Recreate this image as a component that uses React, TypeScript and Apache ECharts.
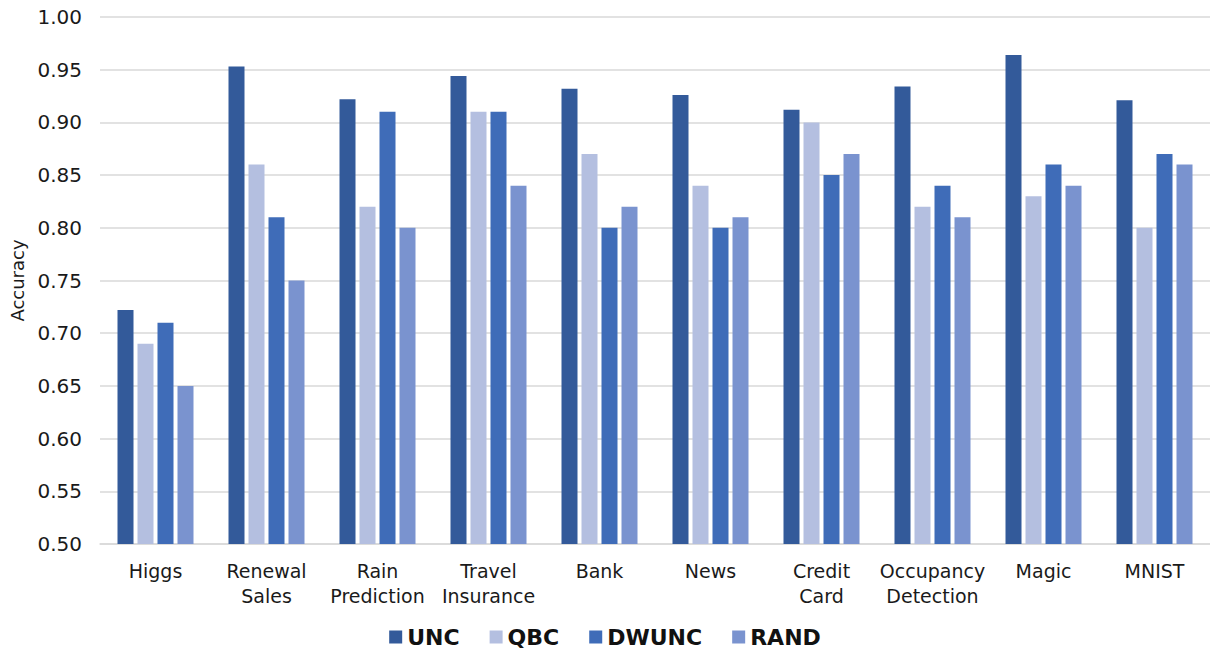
import React, { useEffect, useRef } from "react";
import * as echarts from "echarts";

const categories = [
  "Higgs",
  "Renewal\nSales",
  "Rain\nPrediction",
  "Travel\nInsurance",
  "Bank",
  "News",
  "Credit\nCard",
  "Occupancy\nDetection",
  "Magic",
  "MNIST",
];

const unc = [0.722, 0.953, 0.922, 0.944, 0.932, 0.926, 0.912, 0.934, 0.964, 0.921];
const qbc = [0.69, 0.86, 0.82, 0.91, 0.87, 0.84, 0.9, 0.82, 0.83, 0.8];
const dwunc = [0.71, 0.81, 0.91, 0.91, 0.8, 0.8, 0.85, 0.84, 0.86, 0.87];
const rand = [0.65, 0.75, 0.8, 0.84, 0.82, 0.81, 0.87, 0.81, 0.84, 0.86];

const seriesNames = ["UNC", "QBC", "DWUNC", "RAND"];
const seriesData = [unc, qbc, dwunc, rand];
const seriesColors = ["#335a9a", "#b4bfe0", "#3f6cb8", "#7a93cf"];

const FONT = "Verdana, 'DejaVu Sans', sans-serif";

export default function App() {
  const ref = useRef<HTMLDivElement>(null);

  useEffect(() => {
    if (!ref.current) return;
    const chart = echarts.init(ref.current, null, { renderer: "svg" });
    chart.setOption({
      animation: false,
      backgroundColor: "#ffffff",
      grid: {
        left: 100,
        right: 0,
        top: 17,
        bottom: 107,
        containLabel: false,
        outerBoundsMode: "none",
      },
      legend: {
        top: 621,
        left: "center",
        itemWidth: 13,
        itemHeight: 13,
        itemGap: 30,
        icon: "rect",
        textStyle: { fontFamily: FONT, fontSize: 22, fontWeight: "bold", color: "#111" },
        data: seriesNames,
      },
      xAxis: {
        type: "category",
        data: categories,
        axisTick: { show: false },
        axisLine: { lineStyle: { color: "#d9d9d9", width: 1.5 } },
        axisLabel: {
          fontFamily: FONT,
          fontSize: 19,
          color: "#1a1a1a",
          lineHeight: 25,
          margin: 14,
          interval: 0,
        },
      },
      yAxis: {
        type: "value",
        min: 0.5,
        max: 1.0,
        interval: 0.05,
        name: "Accuracy",
        nameLocation: "middle",
        nameRotate: 90,
        nameGap: 72,
        nameTextStyle: { fontFamily: FONT, fontSize: 18, color: "#1a1a1a" },
        axisLine: { show: false },
        axisTick: { show: false },
        axisLabel: {
          fontFamily: FONT,
          fontSize: 20,
          color: "#1a1a1a",
          margin: 18,
          formatter: (v: number) => v.toFixed(2),
        },
        splitLine: { lineStyle: { color: "#d9d9d9", width: 1.5 } },
      },
      series: seriesNames.map((name, i) => ({
        name,
        type: "bar",
        data: seriesData[i],
        barWidth: 16,
        barGap: "25%",
        itemStyle: { color: seriesColors[i] },
      })),
    });
    return () => chart.dispose();
  }, []);

  return (
    <div
      ref={ref}
      style={{ position: "fixed", left: 0, top: 0, width: 1210, height: 651 }}
    />
  );
}
